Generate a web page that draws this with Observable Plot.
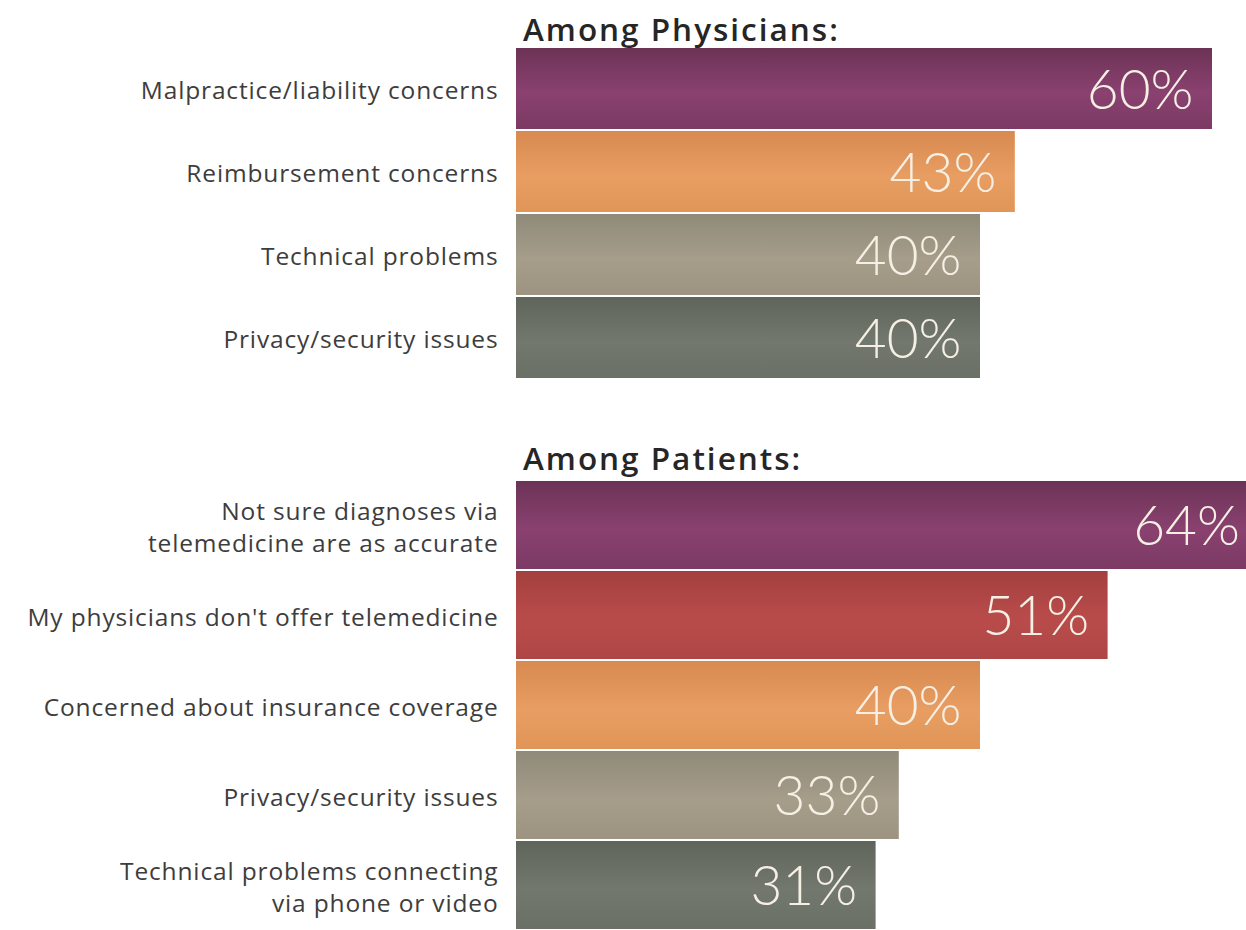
<!DOCTYPE html>
<html>
<head>
<meta charset="utf-8">
<script src="https://cdn.jsdelivr.net/npm/d3@7"></script>
<script src="https://cdn.jsdelivr.net/npm/@observablehq/plot@0.6"></script>
<style>
  html, body { margin: 0; padding: 0; background: #fff; overflow: hidden; }
  #wrap { position: relative; width: 1246px; height: 930px; font-family: "Open Sans", Lato, sans-serif; }
  .title { position: absolute; left: 523px; font-size: 31.5px; font-weight: 600; color: #262626; letter-spacing: 2px; line-height: 1; }
  .chart { position: absolute; left: 0; }
  .chart g[aria-label="y-axis tick label"] text { letter-spacing: 0.85px; }
</style>
</head>
<body>
<div id="wrap">
  <div class="title" id="t1" style="top:13px">Among Physicians:</div>
  <div class="chart" id="c1" style="top:0px"></div>
  <div class="title" id="t2" style="top:442px">Among Patients:</div>
  <div class="chart" id="c2" style="top:440px"></div>
</div>
<script>
// ---- Data ----
const physCategories = ["Malpractice/liability concerns", "Reimbursement concerns", "Technical problems", "Privacy/security issues"];
const physValues = [60, 43, 40, 40];
const physColors = ["purple", "orange", "tan", "slate"];

const patCategories = ["Not sure diagnoses via\ntelemedicine are as accurate", "My physicians don't offer telemedicine", "Concerned about insurance coverage", "Privacy/security issues", "Technical problems connecting\nvia phone or video"];
const patValues = [64, 51, 40, 33, 31];
const patColors = ["purple", "red", "orange", "tan", "slate"];

const palette = {
  purple: ["#6c3356", "#8a4170", "#7b3a64"],
  red:    ["#a3403f", "#b94c4b", "#ae4645"],
  orange: ["#d88a50", "#e89d62", "#e19658"],
  tan:    ["#8f8a79", "#a69d8a", "#9c9481"],
  slate:  ["#5f655b", "#72786d", "#6a7066"]
};

function addGradients(svg) {
  const ns = "http://www.w3.org/2000/svg";
  const defs = document.createElementNS(ns, "defs");
  for (const [k, c] of Object.entries(palette)) {
    const g = document.createElementNS(ns, "linearGradient");
    g.setAttribute("id", "grad-" + k);
    g.setAttribute("x1", "0"); g.setAttribute("y1", "0");
    g.setAttribute("x2", "0"); g.setAttribute("y2", "1");
    [[0, c[0]], [0.55, c[1]], [1, c[2]]].forEach(([o, col]) => {
      const s = document.createElementNS(ns, "stop");
      s.setAttribute("offset", o);
      s.setAttribute("stop-color", col);
      g.appendChild(s);
    });
    defs.appendChild(g);
  }
  svg.insertBefore(defs, svg.firstChild);
}

function makeChart(cats, vals, cols, height, marginTop, padding) {
  const data = cats.map((c, i) => ({cat: c, val: vals[i], col: cols[i]}));
  const svg = Plot.plot({
    width: 1246,
    height,
    marginTop,
    marginBottom: 0,
    marginLeft: 516,
    marginRight: 0,
    style: {fontFamily: "'Open Sans', Lato, sans-serif", background: "transparent", overflow: "hidden"},
    x: {domain: [0, 100], range: [516, 1676], axis: null},
    y: {domain: cats, paddingInner: padding, paddingOuter: 0, label: null},
    marks: [
      Plot.barX(data, {x: "val", y: "cat", fill: d => "url(#grad-" + d.col + ")", clip: "frame"}),
      Plot.text(data, {x: "val", y: "cat", text: d => d.val + "%", textAnchor: "end", dx: -19, dy: 2,
        fill: "#f6efe4", fontSize: 55, fontWeight: 300, fontFamily: "Lato, sans-serif", clip: "frame"}),
      Plot.axisY({tickSize: 0, tickPadding: 18, fontSize: 24.5, fill: "#3d3d3d", lineHeight: 1.3, label: null})
    ]
  });
  addGradients(svg);
  return svg;
}

document.getElementById("c1").appendChild(makeChart(physCategories, physValues, physColors, 379, 47, 0.025));
document.getElementById("c2").appendChild(makeChart(patCategories, patValues, patColors, 490, 40, 0.022));
</script>
</body>
</html>
